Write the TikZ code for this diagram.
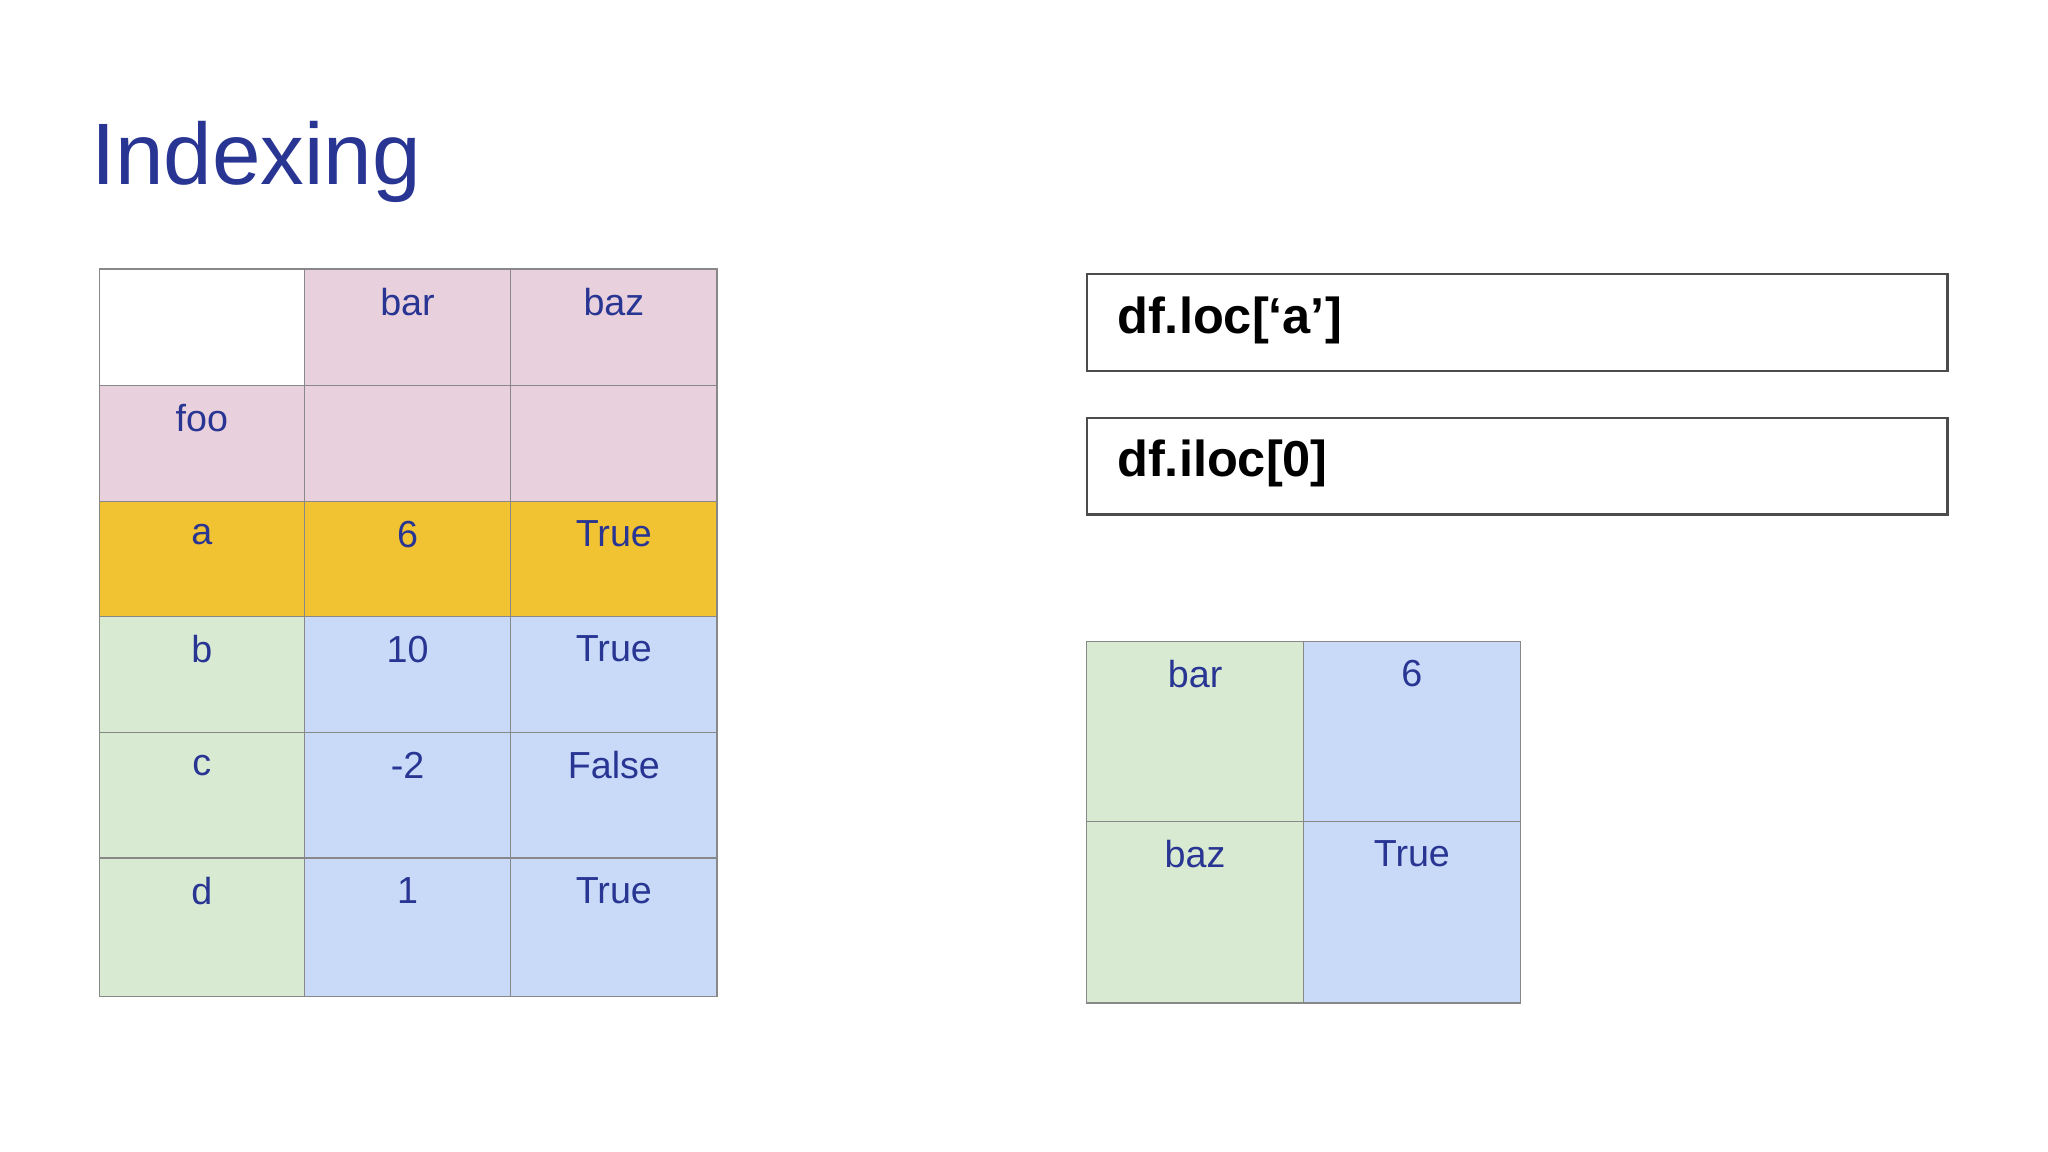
\documentclass[tikz,border=0pt]{standalone}
\usepackage{fontspec}
\setmainfont{Liberation Sans}
\definecolor{pk}{HTML}{E8D1DC}
\definecolor{gd}{HTML}{F1C232}
\definecolor{gr}{HTML}{D9EAD3}
\definecolor{bl}{HTML}{C9DAF8}
\definecolor{tx}{HTML}{283593}
\definecolor{ln}{HTML}{888888}
\begin{document}
\begin{tikzpicture}[x=0.01cm,y=-0.01cm,
  cellbox/.style={draw=ln,line width=0.3pt,minimum width=#1,inner sep=0pt,anchor=north west},
  celltext/.style={text=tx,font=\fontsize{8.2}{9}\selectfont,anchor=center},
  codebox/.style={draw=black!70,line width=0.5pt,anchor=north west,minimum width=6.59cm,minimum height=0.74cm},
  codetext/.style={font=\fontsize{11}{13}\selectfont\bfseries,anchor=west}]
\useasboundingbox (0,0) rectangle (1568,882);
\fill[white] (0,0) rectangle (1568,882);
\node[text=tx,font=\fontsize{19}{22}\selectfont,anchor=base west,inner sep=0pt] (title) at (69,141) {Indexing};
% left table
\def\cxs{{76,233,391,549}}
\def\rys{{206,295,384,472,561,657,763}}
\newcommand\mycell[7]{% name,x0,y0,x1,y1,color,text
  \fill[#6] (#2,#3) rectangle (#4,#5);
  \draw[ln,line width=0.3pt] (#2,#3) rectangle (#4,#5);
  \node[celltext] (#1) at ({(#2+#4)/2},#3+25) {#7};}
\mycell{c00}{76}{206}{233}{295}{white}{}
\mycell{c01}{233}{206}{391}{295}{pk}{bar}
\mycell{c02}{391}{206}{549}{295}{pk}{baz}
\mycell{c10}{76}{295}{233}{384}{pk}{foo}
\mycell{c11}{233}{295}{391}{384}{pk}{}
\mycell{c12}{391}{295}{549}{384}{pk}{}
\mycell{c20}{76}{384}{233}{472}{gd}{a}
\mycell{c21}{233}{384}{391}{472}{gd}{6}
\mycell{c22}{391}{384}{549}{472}{gd}{True}
\mycell{c30}{76}{472}{233}{561}{gr}{b}
\mycell{c31}{233}{472}{391}{561}{bl}{10}
\mycell{c32}{391}{472}{549}{561}{bl}{True}
\mycell{c40}{76}{561}{233}{657}{gr}{c}
\mycell{c41}{233}{561}{391}{657}{bl}{-2}
\mycell{c42}{391}{561}{549}{657}{bl}{False}
\mycell{c50}{76}{657}{233}{763}{gr}{d}
\mycell{c51}{233}{657}{391}{763}{bl}{1}
\mycell{c52}{391}{657}{549}{763}{bl}{True}
% right table
\mycell{r00}{832}{491}{998}{629}{gr}{bar}
\mycell{r01}{998}{491}{1164}{629}{bl}{6}
\mycell{r10}{832}{629}{998}{768}{gr}{baz}
\mycell{r11}{998}{629}{1164}{768}{bl}{True}
% code boxes
\draw[black!70,line width=0.5pt] (832,210) rectangle (1491,284);
\node[codetext] (loc) at (843,245) {df.loc[‘a’]};
\draw[black!70,line width=0.5pt] (832,320) rectangle (1491,394);
\node[codetext] (iloc) at (843,355) {df.iloc[0]};
\end{tikzpicture}
\end{document}
